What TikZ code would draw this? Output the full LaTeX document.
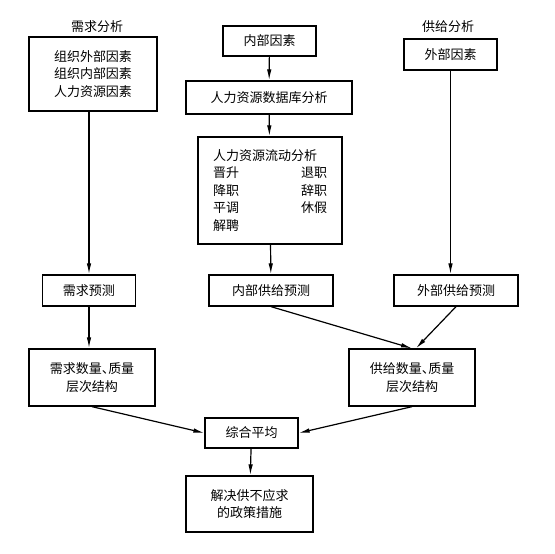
\documentclass[tikz,border=0pt]{standalone}
\usepackage{fontspec}
\newfontfamily\cjk{Noto Sans CJK SC}
\usetikzlibrary{arrows.meta}
\newcommand{\halfdun}{\makebox[0.5em][l]{、}}

\begin{document}
\begin{tikzpicture}[
    x=1pt,y=-1pt,
    >={Latex[length=11pt,width=4.5pt]},
    every node/.style={font=\cjk\fontsize{13}{17.5}\selectfont},
    box/.style={draw,line width=1.3pt,minimum height=31pt,inner sep=2pt,align=center},
    arr/.style={->,line width=1.2pt}
]
\useasboundingbox (0,0) rectangle (555,554);

% Demand side
\node (ldem) at (97,27) {需求分析};
\node[box,minimum width=128pt,minimum height=74pt,align=left] (dfac) at (93,74) {组织外部因素\\组织内部因素\\人力资源因素};
\node[box,minimum width=93pt] (dfc) at (89,290.5) {需求预测};
\node[box,minimum width=126pt,minimum height=57pt] (dq) at (92,377.5) {需求数量\halfdun 质量\\层次结构};

% Internal supply
\node[box,minimum width=93pt,minimum height=30pt] (infac) at (269.5,41) {内部因素};
\node[box,minimum width=166pt,minimum height=33pt] (hrdb) at (269,97.5) {人力资源数据库分析};
\node[box,minimum width=144pt,minimum height=107pt,text width=114pt,align=left] (flow) at (270,190.5)
    {人力资源流动分析\\晋升\hfill 退职\\降职\hfill 辞职\\平调\hfill 休假\\解聘};
\node[box,minimum width=124pt] (isf) at (271,290.5) {内部供给预测};

% External supply
\node (lsup) at (448,27) {供给分析};
\node[box,minimum width=93pt] (exfac) at (450.5,54.5) {外部因素};
\node[box,minimum width=124pt] (esf) at (456,290.5) {外部供给预测};
\node[box,minimum width=126pt,minimum height=57pt] (sq) at (412,377.5) {供给数量\halfdun 质量\\层次结构};

% Balance and policy
\node[box,minimum width=93pt,minimum height=30pt] (bal) at (251.5,433) {综合平均};
\node[box,minimum width=127pt,minimum height=56pt] (pol) at (249.5,504) {解决供不应求\\的政策措施};

% Arrows
\draw[arr] (dfc.north |- dfac.south) -- (dfc.north);
\draw[arr] (dfc.south) -- (dfc.south |- dq.north);
\draw[arr] (infac) -- (hrdb);
\draw[arr] (hrdb) -- (flow);
\draw[arr] (flow) -- (isf);
\draw[arr] (exfac.south) -- (exfac.south |- esf.north);
\draw[arr] (isf.south) -- (sq.north);
\draw[arr] (esf.south) -- ([xshift=4pt]sq.north);
\draw[arr] (dq.south) -- (bal.west);
\draw[arr] (sq.south) -- (bal.east);
\draw[arr] (bal) -- (pol);

\end{tikzpicture}
\end{document}
